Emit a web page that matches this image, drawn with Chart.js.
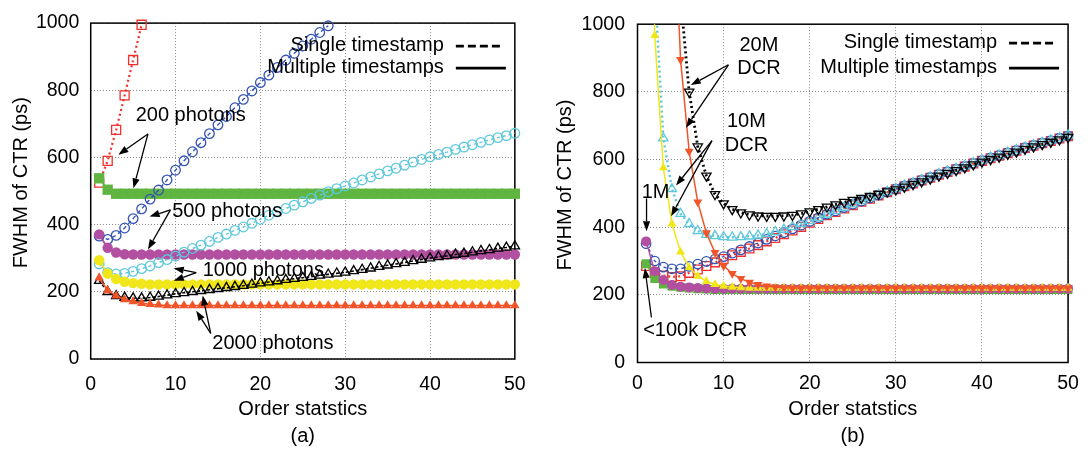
<!DOCTYPE html>
<html>
<head>
<meta charset="utf-8">
<script src="https://cdn.jsdelivr.net/npm/chart.js@4.4.1/dist/chart.umd.min.js"></script>
<style>
  body { margin: 0; background: #fff; overflow: hidden; }
  #wrap { position: relative; width: 1088px; height: 450px; }
  canvas { position: absolute; top: 0; }
  #chartA { left: 0; }
  #chartB { left: 540px; }
</style>
</head>
<body>
<div id="wrap">
  <canvas id="chartA" width="540" height="450"></canvas>
  <canvas id="chartB" width="548" height="450"></canvas>
</div>
<script>
// x: order statistic index
var orderStat = [1,2,3,4,5,6,7,8,9,10,11,12,13,14,15,16,17,18,19,20,21,22,23,24,25,
  26,27,28,29,30,31,32,33,34,35,36,37,38,39,40,41,42,43,44,45,46,47,48,49,50];
var xTicks = [0, 10, 20, 30, 40, 50];
var yTicks = [0, 200, 400, 600, 800, 1000];

// ---- panel (a): number of photons ----
var a200Single = [525,590,682,785,890,995];
var a200Multi = [538,504,492,492,492,492,492,492,492,492,492,492,492,492,492,492,492,492,492,492,492,492,492,492,492,
  492,492,492,492,492,492,492,492,492,492,492,492,492,492,492,492,492,492,492,492,492,492,492,492,492];
var a500Single = [366,356,368,390,418,447,476,503,533,562,590,617,644,671,697,722,748,773,798,823,845,868,890,910,932,952,972,992];
var a500Multi = [371,331,317,312,311,311,311,311,311,311,311,311,311,311,311,311,311,311,311,311,311,311,311,311,311,
  311,311,311,311,311,311,311,311,311,311,311,311,311,311,311,311,311,311,311,311,311,311,311,311,311];
var a1000Single = [283,257,253,255,261,269,277,287,296,306,318,329,339,350,362,372,383,393,404,416,428,438,448,458,468,
  478,488,498,507,515,524,533,542,551,560,568,577,586,594,602,609,616,624,631,638,645,652,659,665,672];
var a1000Multi = [294,254,238,230,226,224,222,222,222,222,222,222,222,222,222,222,222,222,222,222,222,222,222,222,222,
  222,222,222,222,222,222,222,222,222,222,222,222,222,222,222,222,222,222,222,222,222,222,222,222,222];
var a2000Single = [233,200,188,183,181,181,183,186,190,194,197,200,203,206,209,212,215,218,222,226,229,232,236,239,242,
  245,249,252,255,258,262,266,270,275,279,283,287,292,296,300,304,307,311,314,318,322,325,329,332,336];
var a2000Multi = [242,204,188,177,171,166,163,161,159,159,159,159,159,159,159,159,159,159,159,159,159,159,159,159,159,
  159,159,159,159,159,159,159,159,159,159,159,159,159,159,159,159,159,159,159,159,159,159,159,159,159];

// ---- panel (b): dark count rate ----
var b100kSingle = [285,265,257,253,255,265,275,285,296,306,317,327,337,347,358,368,379,390,401,413,424,435,445,455,465,
  475,484,494,503,512,521,529,538,546,555,563,571,579,588,596,604,611,619,626,634,641,648,655,662,669];
var b100kMulti = [292,248,232,225,222,220,218,217,216,216,216,216,216,216,216,216,216,216,216,216,216,216,216,216,216,
  216,216,216,216,216,216,216,216,216,216,216,216,216,216,216,216,216,216,216,216,216,216,216,216,216];
var b1MSingle = [351,300,282,277,277,284,291,299,306,313,323,333,343,353,364,374,384,395,406,417,428,438,448,458,468,
  477,486,495,504,513,522,530,539,547,556,564,572,580,589,597,605,612,620,627,635,642,649,656,663,670];
var b1MMulti = [358,270,244,229,224,222,220,219,218,218,218,218,218,218,218,218,218,218,218,218,218,218,218,218,218,
  218,218,218,218,218,218,218,218,218,218,218,218,218,218,218,218,218,218,218,218,218,218,218,218,218];
var b10MSingle = [2000,1112,663,513,440,410,389,378,374,371,370,371,373,376,380,386,393,401,410,419,428,438,448,458,468,
  478,487,496,505,514,523,531,540,548,557,565,573,581,590,598,606,613,621,628,636,643,650,657,664,671];
var b10MMulti = [2200,967,576,410,327,281,255,240,231,226,223,221,220,220,220,220,220,220,220,220,220,220,220,220,220,
  220,220,220,220,220,220,220,220,220,220,220,220,220,220,220,220,220,220,220,220,220,220,220,220,220];
var b20MSingle = [3000,2500,1900,1400,1080,800,638,552,497,470,453,443,437,434,433,433,434,436,440,446,453,460,467,474,480,
  486,492,498,505,511,519,527,535,543,552,560,568,576,585,593,601,608,616,623,631,638,645,652,659,666];
var b20MMulti = [3000,2600,2000,1480,895,624,474,383,325,286,263,248,237,230,226,223,221,220,220,220,220,220,220,220,220,
  220,220,220,220,220,220,220,220,220,220,220,220,220,220,220,220,220,220,220,220,220,220,220,220,220];

var FONT = '"Liberation Sans", Arial, Helvetica, sans-serif';
Chart.defaults.font.family = FONT;
Chart.defaults.color = '#000';
Chart.defaults.animation = false;

var RED = '#f0302c', GREEN = '#5fb53f', BLUE = '#3454b4', MAGENTA = '#b24fa0',
    CYAN = '#5ec8dc', YELLOW = '#f0e61a', BLACK = '#000000', ORANGE = '#f2542a';

var toPoints = (ys) => ys.map((v, i) => ({ x: orderStat[i], y: v }));

// open markers, broken line = single timestamp
var single = (ys, color, style, r, dash, w, rot) => ({
  data: toPoints(ys), borderColor: color, borderWidth: w, borderDash: dash,
  pointStyle: style, pointRadius: r, pointRotation: rot || 0,
  pointBorderColor: color, pointBackgroundColor: 'rgba(255,255,255,0)', pointBorderWidth: 1.3
});
// filled markers, solid line = multiple timestamps
var multi = (ys, color, style, r, rot) => ({
  data: toPoints(ys), borderColor: color, borderWidth: 1.5,
  pointStyle: style, pointRadius: r, pointRotation: rot || 0,
  pointBorderColor: color, pointBackgroundColor: color, pointBorderWidth: 0
});

// legend, frame, labels and arrows drawn on top of the chart area
var overlay = {
  id: 'overlay',
  beforeDatasetsDraw(chart) {
    var ctx = chart.ctx, a = chart.chartArea;
    ctx.save();
    ctx.strokeStyle = '#000';
    ctx.lineWidth = 1.5;
    ctx.strokeRect(a.left, a.top, a.right - a.left, a.bottom - a.top);
    ctx.restore();
  },
  afterDatasetsDraw(chart, args, opts) {
    var ctx = chart.ctx, a = chart.chartArea, sx = chart.scales.x, sy = chart.scales.y;
    var px = (v) => sx.getPixelForValue(v), py = (v) => sy.getPixelForValue(v);
    ctx.save();
    ctx.fillStyle = '#000';
    ctx.strokeStyle = '#000';
    ctx.font = '20px ' + FONT;
    ctx.textBaseline = 'middle';
    // legend
    opts.legend.forEach((row) => {
      var ly = a.top + row.dy;
      ctx.textAlign = 'right';
      ctx.fillText(row.text, a.right - 71, ly);
      ctx.setLineDash(row.dash);
      ctx.lineWidth = 2.8;
      ctx.beginPath();
      ctx.moveTo(a.right - 59, ly + 1);
      ctx.lineTo(a.right - row.end, ly + 1);
      ctx.stroke();
    });
    ctx.setLineDash([]);
    // notes
    opts.notes.forEach((n) => {
      ctx.textAlign = n.align || 'left';
      ctx.fillText(n.text, px(n.x), py(n.y));
    });
    // arrows
    ctx.lineWidth = 1.3;
    opts.arrows.forEach((ar) => {
      var x0 = px(ar.from[0]), y0 = py(ar.from[1]);
      ar.to.forEach((t) => {
        var x1 = px(t[0]), y1 = py(t[1]);
        var ang = Math.atan2(y1 - y0, x1 - x0), L = 10, H = 3.6;
        var bx = x1 - L * Math.cos(ang), by = y1 - L * Math.sin(ang);
        ctx.beginPath();
        ctx.moveTo(x0, y0);
        ctx.lineTo(bx, by);
        ctx.stroke();
        ctx.beginPath();
        ctx.moveTo(x1, y1);
        ctx.lineTo(bx + H * Math.sin(ang), by - H * Math.cos(ang));
        ctx.lineTo(bx - H * Math.sin(ang), by + H * Math.cos(ang));
        ctx.closePath();
        ctx.fill();
      });
    });
    ctx.restore();
  }
};

var legendRows = (d1, d2) => [
  { text: 'Single timestamp', dy: d1, dash: [8, 4], end: 13 },
  { text: 'Multiple timestamps', dy: d2, dash: [], end: 9 }
];

var makeScales = (g) => ({
  x: {
    type: 'linear', min: 0, max: 50,
    afterFit: (s) => { s.height = g.xh; },
    afterBuildTicks: (s) => { s.ticks = xTicks.map((v) => ({ value: v })); },
    grid: { color: '#8a8a8a', lineWidth: 1, drawTicks: false },
    border: { display: false, dash: [1, 2] },
    ticks: { font: { size: 19.5 }, padding: g.xpad, maxRotation: 0, autoSkip: false, callback: (v) => String(v) },
    title: { display: true, text: ['Order statstics', g.tag], font: { size: 20, lineHeight: 1.35 }, padding: { top: 0, bottom: 0 } }
  },
  y: {
    type: 'linear', min: 0, max: 1000,
    afterFit: (s) => { s.width = g.yw; },
    afterBuildTicks: (s) => { s.ticks = yTicks.map((v) => ({ value: v })); },
    grid: { color: '#8a8a8a', lineWidth: 1, drawTicks: false },
    border: { display: false, dash: [1, 2] },
    ticks: { font: { size: 19.5 }, padding: g.ypad, callback: (v) => String(v) },
    // leading no-break spaces nudge the label up, as in the original figure
    title: { display: true, text: '\u00a0\u00a0\u00a0FWHM of CTR (ps)', font: { size: 20, lineHeight: 1.2 }, padding: { top: g.tpad, bottom: 0 } }
  }
});

var withOrder = (sets, clip) => sets.map((d, i) => Object.assign(d, { order: 20 - i, clip: clip, tension: 0 }));

// panel (a)
new Chart(document.getElementById('chartA'), {
  type: 'line',
  data: {
    datasets: withOrder([
      single(a200Single, RED, 'rect', 6.4, [2, 3], 2.2),
      multi(a200Multi, GREEN, 'rect', 7.3),
      single(a500Single, BLUE, 'circle', 4.8, [4, 3], 1.4),
      multi(a500Multi, MAGENTA, 'circle', 5.2),
      single(a1000Single, CYAN, 'circle', 4.8, [3, 3], 1.4),
      multi(a1000Multi, YELLOW, 'circle', 5.2),
      single(a2000Single, BLACK, 'triangle', 5.4, [3, 2], 1.6),
      multi(a2000Multi, ORANGE, 'triangle', 5.4)
    ], false)
  },
  options: {
    responsive: false,
    devicePixelRatio: 1,
    layout: { padding: { left: 0, top: 19.5, right: 10, bottom: 0 } },
    scales: makeScales({ xh: 91, yw: 90.7, xpad: 14.3, ypad: 11.4, tpad: 9, tag: '(a)' }),
    plugins: {
      legend: { display: false },
      tooltip: { enabled: false },
      overlay: {
        legend: legendRows(22, 44),
        notes: [
          { text: '200 photons', x: 5.3, y: 724 },
          { text: '500 photons', x: 9.6, y: 439 },
          { text: '1000 photons', x: 13.2, y: 264 },
          { text: '2000 photons', x: 14.34, y: 47 }
        ],
        arrows: [
          { from: [6.75, 670], to: [[3.26, 608], [5.04, 508]] },
          { from: [9.4, 444], to: [[6.94, 424], [6.75, 326]] },
          { from: [12.44, 257], to: [[9.79, 270], [9.79, 233]] },
          { from: [14.15, 76], to: [[12.44, 144], [13.2, 189]] }
        ]
      }
    }
  },
  plugins: [overlay]
});

// panel (b)
var clipB = { left: 12, top: 0, right: 12, bottom: 12 };
new Chart(document.getElementById('chartB'), {
  type: 'line',
  data: {
    datasets: withOrder([
      single(b100kSingle, RED, 'rect', 6.2, [2, 3], 2.2),
      multi(b100kMulti, GREEN, 'rect', 6.3),
      single(b1MSingle, BLUE, 'circle', 4.7, [3, 3], 1.5),
      multi(b1MMulti, MAGENTA, 'circle', 5),
      single(b10MSingle, CYAN, 'triangle', 5.4, [2, 3], 2.5),
      multi(b10MMulti, YELLOW, 'triangle', 5.2),
      single(b20MSingle, BLACK, 'triangle', 5.4, [2, 3], 2.8, 180),
      multi(b20MMulti, ORANGE, 'triangle', 5.2, 180)
    ], clipB)
  },
  options: {
    responsive: false,
    devicePixelRatio: 1,
    layout: { padding: { left: 0, top: 17, right: 12.5, bottom: 0 } },
    scales: makeScales({ xh: 87.5, yw: 97.5, xpad: 9.1, ypad: 12.5, tpad: 13.8, tag: '(b)' }),
    plugins: {
      legend: { display: false },
      tooltip: { enabled: false },
      overlay: {
        legend: legendRows(18, 43),
        notes: [
          { text: '20M', x: 14.1, y: 938, align: 'center' },
          { text: 'DCR', x: 14.1, y: 870, align: 'center' },
          { text: '10M', x: 12.65, y: 711, align: 'center' },
          { text: 'DCR', x: 12.65, y: 641, align: 'center' },
          { text: '1M', x: 0.48, y: 504 },
          { text: '<100k DCR', x: 0.66, y: 94 }
        ],
        arrows: [
          { from: [10.56, 880], to: [[6.19, 820], [5.62, 694]] },
          { from: [8.65, 656], to: [[4.47, 523], [3.9, 432]] },
          { from: [1.05, 485], to: [[1.05, 388]] },
          { from: [1.62, 133], to: [[0.86, 279]] }
        ]
      }
    }
  },
  plugins: [overlay]
});
</script>
</body>
</html>
